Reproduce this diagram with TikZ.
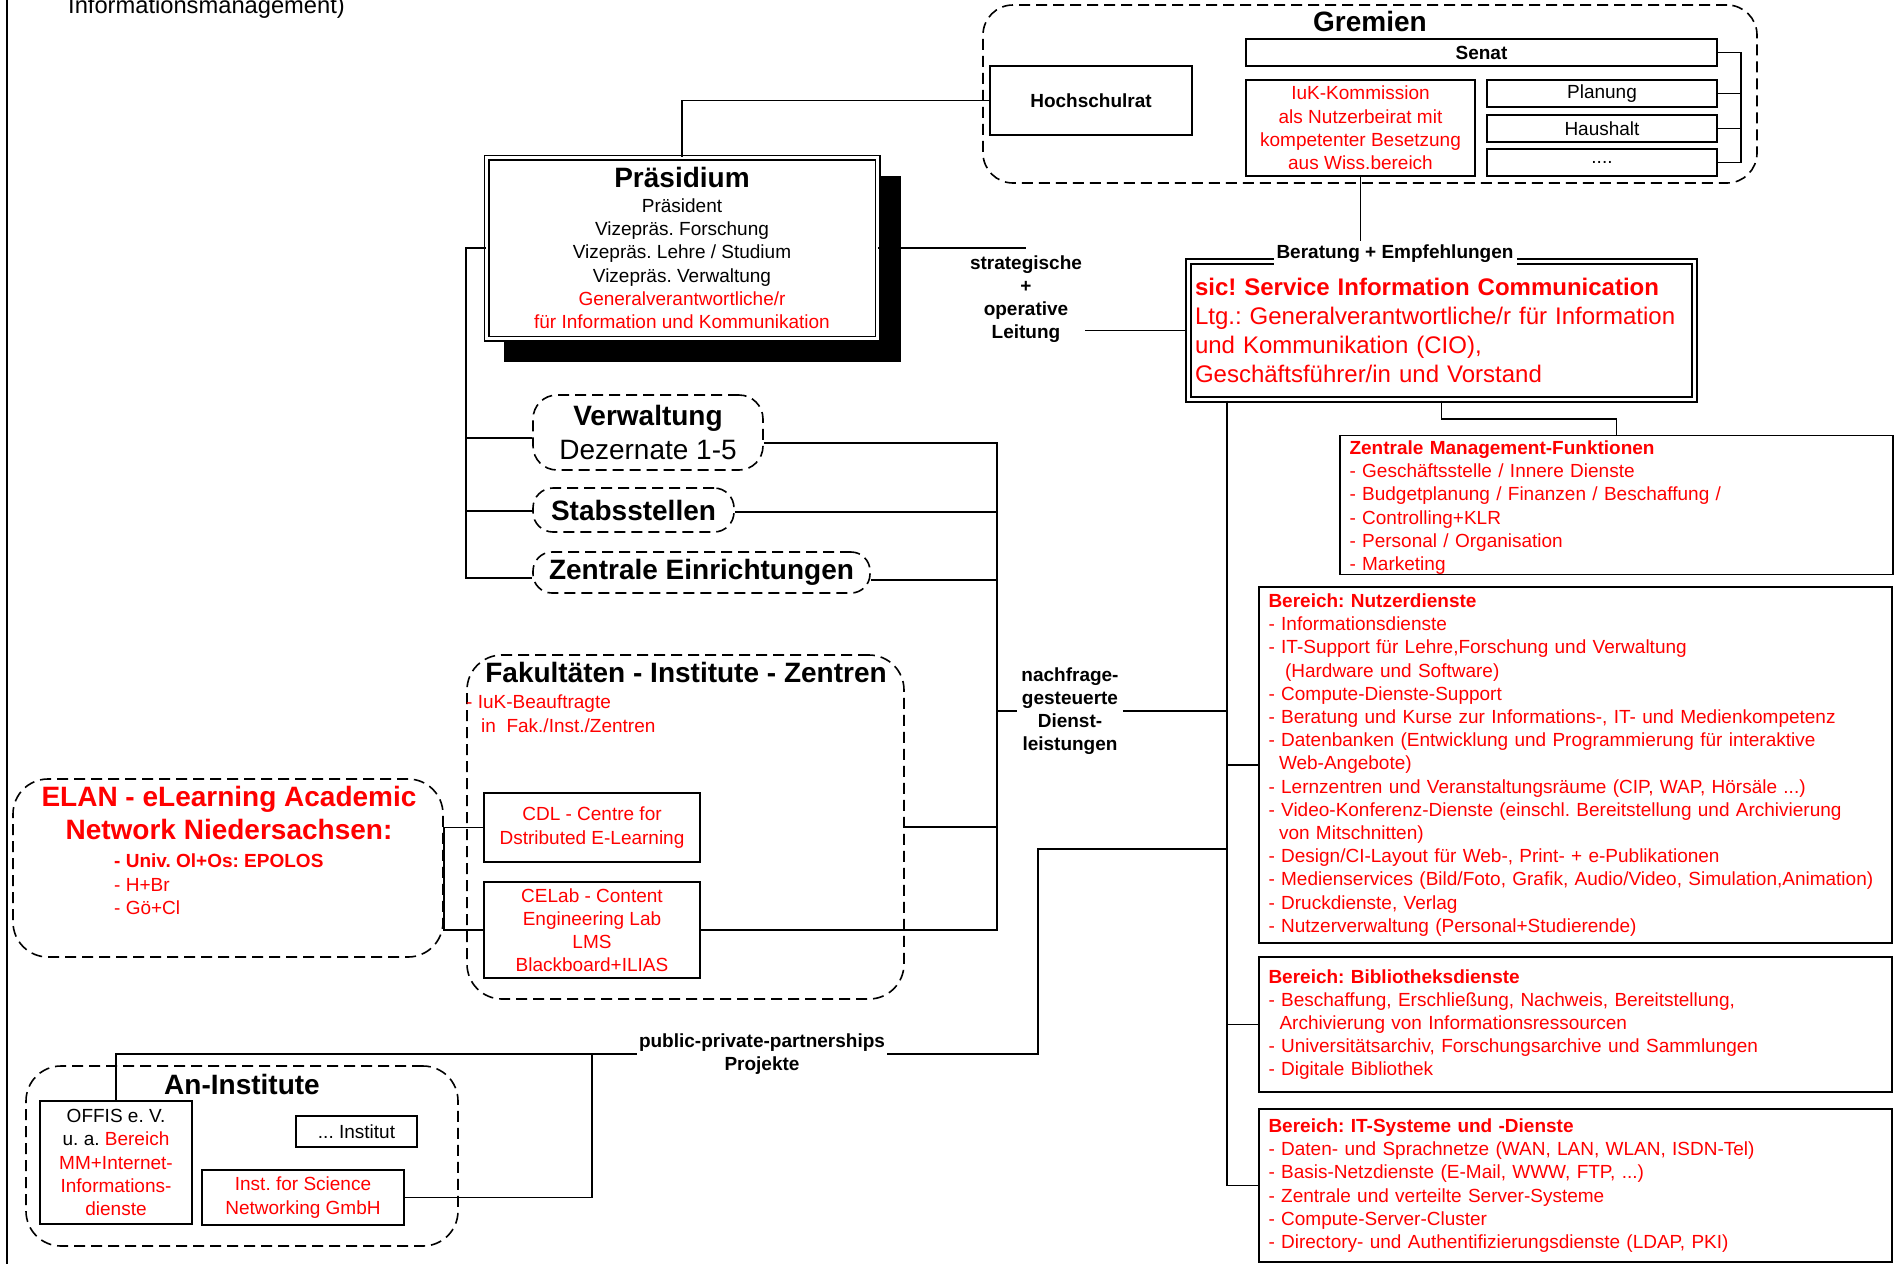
\documentclass[tikz,border=0pt]{standalone}
\usepackage{fontspec}
\setmainfont{Liberation Sans}
\usetikzlibrary{calc}
\definecolor{ored}{RGB}{255,0,0}
\newcommand\txtN{\fontsize{19}{23.2}\selectfont}
\newcommand\txtT{\fontsize{28}{33}\selectfont\bfseries}
\newcommand\txtL{\fontsize{24}{29}\selectfont}
\newcommand\txtH{\fontsize{23.7}{28}\selectfont}
\frenchspacing
\begin{document}
\begin{tikzpicture}[x=1pt,y=-1pt,
  conn/.style={line width=1.8pt},
  plainbox/.style={draw, line width=1.6pt, fill=white, inner sep=0pt, align=center, font=\txtN},
  listbox/.style={draw, line width=1.6pt, fill=white, inner xsep=9.5pt, inner ysep=0pt, align=left, font=\txtN, text=ored},
  dashgroup/.style={draw, line width=1.6pt, dash pattern=on 11pt off 6pt, rounded corners=#1},
  orgunit/.style={dashgroup=#1, fill=white, inner sep=0pt, align=center, font=\fontsize{28}{34}\selectfont},
  lbl/.style={font=\txtN\bfseries, align=center, inner xsep=3pt, inner ysep=2pt, fill=white},
]
% canvas and page frame
\fill[white] (0,0) rectangle (1896,1264);
\useasboundingbox (0,0) rectangle (1896,1264);
\draw[line width=2pt] (7,0) -- (7,1264);
\node[anchor=base west, inner sep=0pt, font=\txtH] (mgmt) at (68,13) {Informationsmanagement)};

% ---------- Gremien ----------
\node[dashgroup=30pt, minimum width=774pt, minimum height=178pt] (grem) at (1370,94) {};
\node[anchor=base, inner sep=0pt, font=\txtT] (gremt) at (1370,31) {Gremien};
\node[plainbox, font=\txtN\bfseries, minimum width=202pt, minimum height=69pt] (hsr) at (1091,100.5) {Hochschulrat};
\node[plainbox, font=\txtN\bfseries, minimum width=471pt, minimum height=27pt] (senat) at (1481.5,52.5) {Senat};
\node[plainbox, text=ored, minimum width=229pt, minimum height=96pt] (iuk) at (1360.5,128) {IuK-Kommission\\als Nutzerbeirat mit\\kompetenter Besetzung\\aus Wiss.bereich};
\node[plainbox, minimum width=230pt, minimum height=27pt] (plan) at (1602,93.5) {Planung};
\node[plainbox, minimum width=230pt, minimum height=27pt] (haus) at (1602,128.5) {Haushalt};
\node[plainbox, minimum width=230pt, minimum height=27pt] (more) at (1602,162.5) {....};
\coordinate (gbr) at (1741,52.5);
\draw[conn] (senat.east) -- (gbr) -- (gbr |- more.east) -- (more.east);
\draw[conn] (plan.east) -- (gbr |- plan.east);
\draw[conn] (haus.east) -- (gbr |- haus.east);

% ---------- Praesidium ----------
\fill[black] (504,176) rectangle (901,362);
\node[plainbox, double, double distance=3.4pt, line width=1.3pt, minimum width=391pt, minimum height=181pt] (prae) at (682,248)
  {{\txtT Präsidium}\\[1.6pt]Präsident\\Vizepräs. Forschung\\Vizepräs. Lehre / Studium\\Vizepräs. Verwaltung\\\textcolor{ored}{Generalverantwortliche/r}\\\textcolor{ored}{für Information und Kommunikation}};
\draw[conn] (prae.north) |- (hsr.west);

% ---------- sic! ----------
\node[listbox, double, double distance=3pt, line width=1.8pt, font=\txtL, inner xsep=6.7pt, text width=493pt, minimum height=138.4pt] (sic) at (1441.5,330.5)
  {\textbf{sic! Service Information Communication}\\Ltg.: Generalverantwortliche/r für Information\\und Kommunikation (CIO),\\Geschäftsführer/in und Vorstand};
\node[lbl, anchor=base, text height=14pt, text depth=5pt, inner ysep=3pt] (ber) at (1395,258) {Beratung + Empfehlungen};
\draw[conn] (iuk.south) -- (iuk.south |- ber.north);

\node[lbl] (strat) at (1026,299) {strategische\\+\\operative\\Leitung};
\draw[conn] (prae.east) -- (prae.east -| strat.north);
\draw[conn] (strat.east |- sic.west) -- (sic.west);

% ---------- sic! departments ----------
\node[listbox, text width=534pt, minimum height=136pt] (zmf) at (1616.5,505)
  {\rule{0pt}{19pt}\textbf{Zentrale Management-Funktionen}\\- Geschäftsstelle / Innere Dienste\\- Budgetplanung / Finanzen / Beschaffung /\\- Controlling+KLR\\- Personal / Organisation\\- Marketing};
\draw[conn] (sic.south) -- ++(0,18) -| (zmf.north);

\node[listbox, text width=614pt, minimum height=356pt] (nutz) at (1575.5,765)
  {\textbf{Bereich: Nutzerdienste}\\
   - Informationsdienste\\
   - IT-Support für Lehre,Forschung und Verwaltung\\
   \hspace*{16.5pt}(Hardware und Software)\\
   - Compute-Dienste-Support\\
   - Beratung und Kurse zur Informations-, IT- und Medienkompetenz\\
   - Datenbanken (Entwicklung und Programmierung für interaktive\\
   \hspace*{10.5pt}Web-Angebote)\\
   - Lernzentren und Veranstaltungsräume (CIP, WAP, Hörsäle ...)\\
   - Video-Konferenz-Dienste (einschl. Bereitstellung und Archivierung\\
   \hspace*{10.5pt}von Mitschnitten)\\
   - Design/CI-Layout für Web-, Print- + e-Publikationen\\
   - Medienservices (Bild/Foto, Grafik, Audio/Video, Simulation,Animation)\\
   - Druckdienste, Verlag\\
   - Nutzerverwaltung (Personal+Studierende)};

\node[listbox, text width=614pt, minimum height=135pt] (bib) at (1575.5,1024.5)
  {\textbf{Bereich: Bibliotheksdienste}\\
   - Beschaffung, Erschließung, Nachweis, Bereitstellung,\\
   \hspace*{11pt}Archivierung von Informationsressourcen\\
   - Universitätsarchiv, Forschungsarchive und Sammlungen\\
   - Digitale Bibliothek};

\node[listbox, text width=614pt, minimum height=153pt] (its) at (1575.5,1185.5)
  {\textbf{Bereich: IT-Systeme und -Dienste}\\
   - Daten- und Sprachnetze (WAN, LAN, WLAN, ISDN-Tel)\\
   - Basis-Netzdienste (E-Mail, WWW, FTP, ...)\\
   - Zentrale und verteilte Server-Systeme\\
   - Compute-Server-Cluster\\
   - Directory- und Authentifizierungsdienste (LDAP, PKI)};

\coordinate (sbus) at (1227,0);
\draw[conn] (sic.south -| sbus) |- (its.west);
\draw[conn] (sbus |- nutz.west) -- (nutz.west);
\draw[conn] (sbus |- bib.west) -- (bib.west);

% ---------- central units ----------
\node[orgunit=24pt, minimum width=230pt, minimum height=75pt] (verw) at (648,432.5) {\textbf{Verwaltung}\\Dezernate 1-5};
\node[orgunit=20pt, font=\txtT, minimum width=201pt, minimum height=44pt] (stab) at (633.5,510) {Stabsstellen};
\node[orgunit=19pt, font=\txtT, minimum width=337pt, minimum height=41pt] (zent) at (701.5,572.5) {Zentrale Einrichtungen};

\coordinate (lbus) at (466,0);
\draw[conn] (prae.west) -- (prae.west -| lbus) |- (zent.west |- 0,578);
\draw[conn] (lbus |- 0,438) -- (verw.west |- 0,438);
\draw[conn] (lbus |- 0,511) -- (stab.west |- 0,511);

% ---------- Fakultaeten ----------
\node[dashgroup=35pt, minimum width=437pt, minimum height=344pt] (fak) at (685.5,827) {};
\node[anchor=base, inner sep=0pt, font=\txtT] (fakt) at (686,682) {Fakultäten - Institute - Zentren};
\node[anchor=north west, inner sep=0pt, align=left, font=\txtN, text=ored] (beauf) at (466,695) {- IuK-Beauftragte\\\hspace*{15pt}in\ \ Fak./Inst./Zentren};
\node[plainbox, text=ored, minimum width=216pt, minimum height=69pt] (cdl) at (592,827.5) {CDL - Centre for\\Dstributed E-Learning};
\node[plainbox, text=ored, minimum width=216pt, minimum height=96pt] (celab) at (592,930) {CELab - Content\\Engineering Lab\\LMS\\Blackboard+ILIAS};

\coordinate (rbus) at (997,0);
\draw[conn] (verw.east |- 0,443) -| (rbus |- celab.east) -- (celab.east);
\draw[conn] (stab.east |- 0,512) -- (rbus |- 0,512);
\draw[conn] (zent.east |- 0,580) -- (rbus |- 0,580);
\draw[conn] (fak.east) -- (rbus |- fak.east);

\node[lbl, inner xsep=4pt] (nf) at (1070,711) {nachfrage-\\gesteuerte\\Dienst-\\leistungen};
\draw[conn] (rbus |- nf.west) -- (nf.west);
\draw[conn] (nf.east) -- (sbus |- nf.east);

% ---------- ELAN ----------
\node[dashgroup=35pt, minimum width=430pt, minimum height=178pt] (elan) at (228,868) {};
\node[anchor=north, inner sep=0pt, align=center, font=\fontsize{28}{33}\selectfont\bfseries, text=ored] (elant) at (229,786) {ELAN - eLearning Academic\\Network Niedersachsen:};
\node[anchor=north west, inner sep=0pt, align=left, font=\txtN, text=ored] (elani) at (114,854) {\textbf{- Univ. Ol+Os: EPOLOS}\\- H+Br\\- Gö+Cl};
\draw[conn] (cdl.west) -- (elan.east |- cdl.west) -- (elan.east |- celab.west) -- (celab.west);

% ---------- An-Institute ----------
\node[dashgroup=35pt, minimum width=432pt, minimum height=180pt] (ani) at (242,1156) {};
\node[anchor=base, inner sep=0pt, font=\txtT] (anit) at (242,1094) {An-Institute};
\node[plainbox, minimum width=152pt, minimum height=123pt] (offis) at (116,1162.5)
  {OFFIS e. V.\\u. a. \textcolor{ored}{Bereich}\\\textcolor{ored}{MM+Internet-}\\\textcolor{ored}{Informations-}\\\textcolor{ored}{dienste}};
\node[plainbox, minimum width=121pt, minimum height=31pt] (inst) at (356.5,1131.5) {... Institut};
\node[plainbox, text=ored, minimum width=202pt, minimum height=55pt] (isn) at (303,1197.5) {Inst. for Science\\Networking GmbH};

\node[lbl, inner xsep=2pt] (ppp) at (762,1054) {public-private-partnerships\\Projekte};
\coordinate (pj) at (592,0);
\coordinate (pk) at (1038,849);
\draw[conn] (offis.north) |- (ppp.west);
\draw[conn] (isn.east) -| (pj |- ppp.west);
\draw[conn] (ppp.east) -| (pk) -- (sbus |- pk);
\end{tikzpicture}
\end{document}
